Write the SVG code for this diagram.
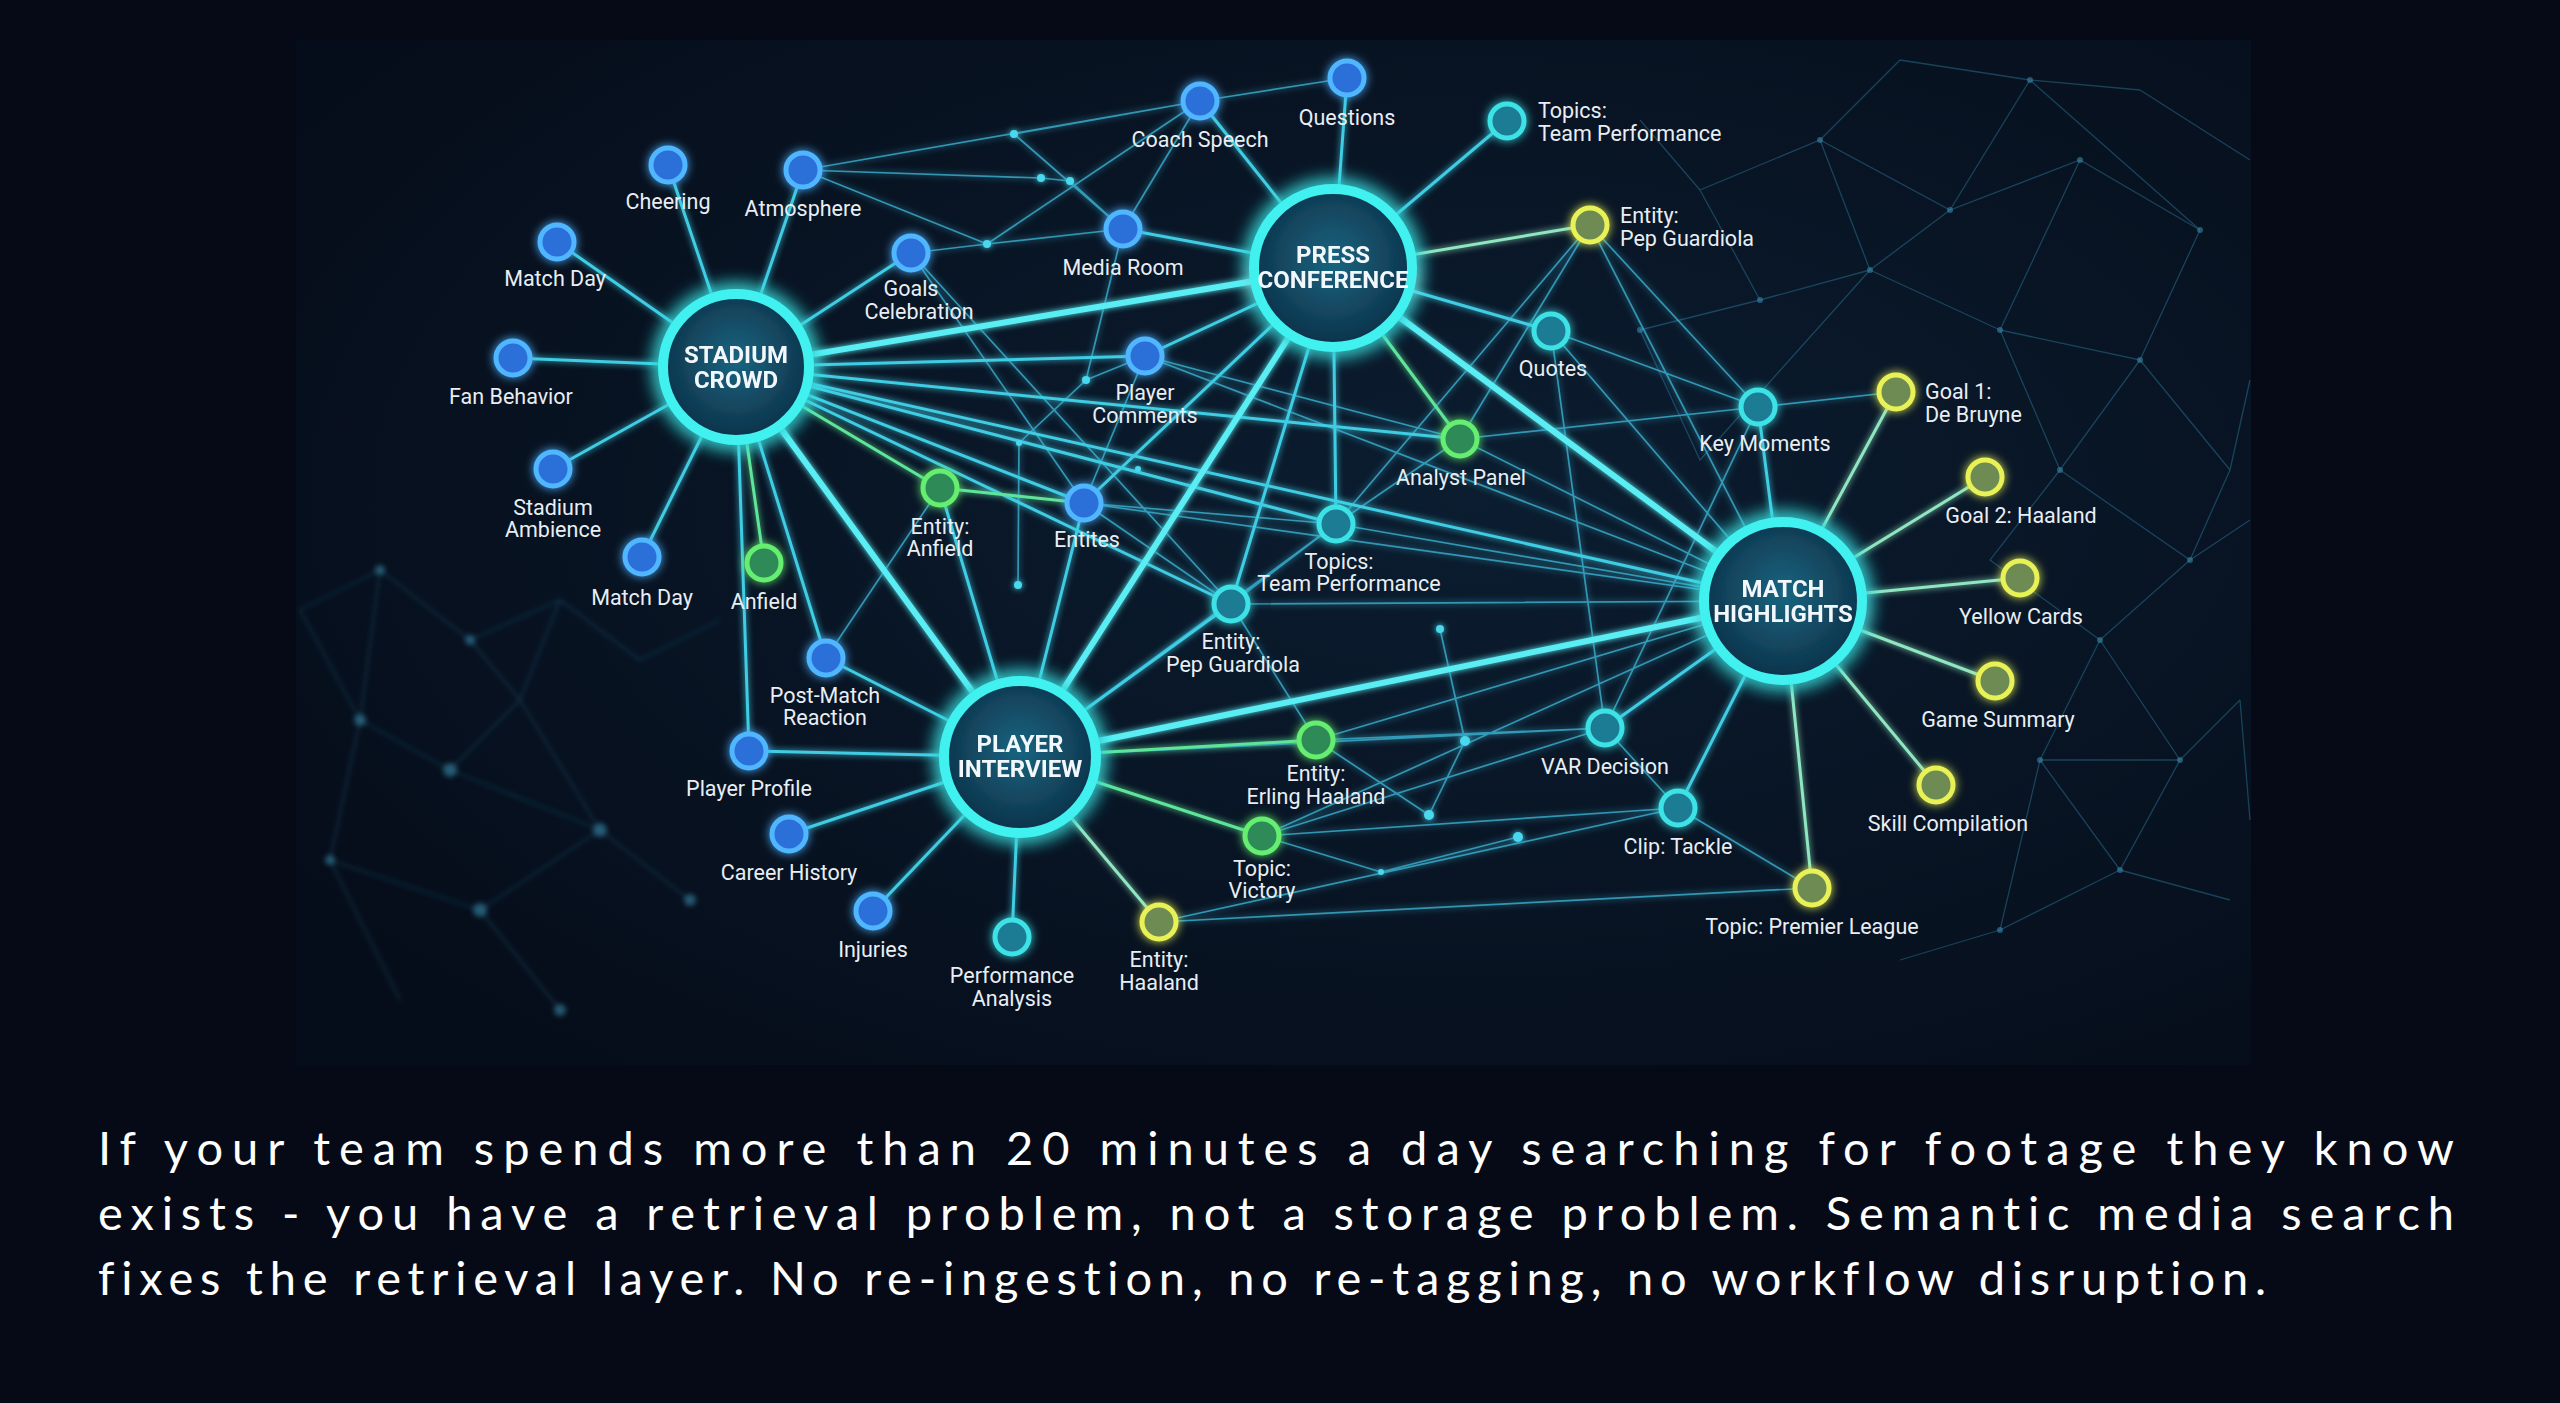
<svg xmlns="http://www.w3.org/2000/svg" width="2560" height="1403" viewBox="0 0 2560 1403">
<defs>
<style>
.lb{font-family:Roboto,"Liberation Sans",sans-serif;font-size:21.5px;fill:#e8eef4;text-anchor:middle}
.ls{font-family:Roboto,"Liberation Sans",sans-serif;font-size:21.5px;fill:#e8eef4;text-anchor:start}
.ht{font-family:Roboto,"Liberation Sans",sans-serif;font-size:24px;font-weight:700;fill:#f2f7fb;text-anchor:middle}
.para{font-family:Lato,"Liberation Sans",sans-serif;font-size:47px;fill:#ffffff;font-variant-ligatures:none;font-feature-settings:"liga" 0}
.thick{stroke:#5aeef4;stroke-width:6;fill:none}
.sp{stroke:#3fcde4;stroke-width:3;fill:none}
.spg{stroke:#5fe59a;stroke-width:3;fill:none}
.spy{stroke:#8fe6c0;stroke-width:3;fill:none}
.th{stroke:#3ab0cf;stroke-width:1.7;fill:none;opacity:.8}
.bg{stroke:#2a7396;stroke-width:1.3;fill:none;opacity:.5}
.dot{fill:#48d8ee}
.bdot{fill:#3a8fb0;opacity:.55}
.hub{fill:url(#hubfill);stroke:#3ff1f0;stroke-width:10}
.nb{fill:#2a6fd8;stroke:#4fb6ff;stroke-width:5}
.nt{fill:#1d7c94;stroke:#3de2e6;stroke-width:5}
.ng{fill:#2e8a57;stroke:#66ee70;stroke-width:5}
.ny{fill:#6e8b52;stroke:#e8f155;stroke-width:5}
</style>
<radialGradient id="hubfill" cx="50%" cy="45%" r="60%">
<stop offset="0" stop-color="#1a6580"/>
<stop offset="1" stop-color="#0c2d44"/>
</radialGradient>
<radialGradient id="panelfill" cx="60%" cy="45%" r="70%">
<stop offset="0" stop-color="#0b1d30"/>
<stop offset="1" stop-color="#060d1a"/>
</radialGradient>
<filter id="glow" x="-20%" y="-20%" width="140%" height="140%">
<feGaussianBlur stdDeviation="3" result="b"/>
<feMerge><feMergeNode in="b"/><feMergeNode in="SourceGraphic"/></feMerge>
</filter>
<filter id="nglow" x="-60%" y="-60%" width="220%" height="220%">
<feGaussianBlur stdDeviation="5" result="b"/>
<feMerge><feMergeNode in="b"/><feMergeNode in="SourceGraphic"/></feMerge>
</filter>
<filter id="hglow" x="-40%" y="-40%" width="180%" height="180%">
<feGaussianBlur stdDeviation="10" result="b"/>
<feMerge><feMergeNode in="b"/><feMergeNode in="b"/><feMergeNode in="SourceGraphic"/></feMerge>
</filter>
<filter id="blur2" x="-10%" y="-10%" width="120%" height="120%">
<feGaussianBlur stdDeviation="2.5"/>
</filter>
</defs>

<rect width="2560" height="1403" fill="#050a16"/>
<rect x="296" y="40" width="1955" height="1025" fill="url(#panelfill)"/>

<g id="background-net">
<g filter="url(#blur2)">
<path class="bg" d="M300 610 L380 570 L470 640 L560 600 L640 660 L720 620 M380 570 L360 720 L450 770 L520 700 L470 640 M450 770 L600 830 L690 900 M520 700 L600 830 M360 720 L330 860 L480 910 L600 830 M480 910 L560 1010 M330 860 L400 1000 M560 600 L520 700 M300 610 L360 720"/>
<circle class="bdot" cx="380" cy="570" r="5"/><circle class="bdot" cx="470" cy="640" r="5"/><circle class="bdot" cx="360" cy="720" r="6"/><circle class="bdot" cx="450" cy="770" r="7"/><circle class="bdot" cx="600" cy="830" r="7"/><circle class="bdot" cx="480" cy="910" r="7"/><circle class="bdot" cx="690" cy="900" r="6"/><circle class="bdot" cx="330" cy="860" r="5"/><circle class="bdot" cx="560" cy="1010" r="6"/>
</g>
<path class="bg" d="M1700 190 L1820 140 L1950 210 L2080 160 L2200 230 M1820 140 L1870 270 L1950 210 M1870 270 L2000 330 L2080 160 M2000 330 L2140 360 L2200 230 M2140 360 L2230 470 M2000 330 L2060 470 L2140 360 M2060 470 L2190 560 L2230 470 M2060 470 L1990 560 L2100 640 L2190 560 M2100 640 L2180 760 L2240 700 M2100 640 L2040 760 L2180 760 M2040 760 L2120 870 L2180 760 M2120 870 L2000 930 L2040 760 M2000 930 L1900 960 M2120 870 L2230 900 M1870 270 L1760 300 M1950 210 L2030 80 L2140 90 M1700 190 L1640 120 M2190 560 L2250 520 M1640 330 L1760 300 L1700 190 M1640 330 L1700 460 L1870 270 M2030 80 L2200 230 M2140 90 L2250 160 M1900 60 L2030 80 M1900 60 L1820 140 M2230 470 L2250 380 M2240 700 L2250 820"/>
<circle class="bdot" cx="1820" cy="140" r="3"/><circle class="bdot" cx="1950" cy="210" r="3"/><circle class="bdot" cx="2080" cy="160" r="3"/><circle class="bdot" cx="2200" cy="230" r="3"/><circle class="bdot" cx="1870" cy="270" r="3"/><circle class="bdot" cx="2000" cy="330" r="3"/><circle class="bdot" cx="2140" cy="360" r="3"/><circle class="bdot" cx="2060" cy="470" r="3"/><circle class="bdot" cx="2190" cy="560" r="3"/><circle class="bdot" cx="2100" cy="640" r="3"/><circle class="bdot" cx="2180" cy="760" r="3"/><circle class="bdot" cx="2040" cy="760" r="3"/><circle class="bdot" cx="2120" cy="870" r="3"/><circle class="bdot" cx="2000" cy="930" r="3"/><circle class="bdot" cx="2030" cy="80" r="3"/><circle class="bdot" cx="1760" cy="300" r="3"/><circle class="bdot" cx="1640" cy="330" r="3"/>
</g>

<g id="connectors" filter="url(#glow)">
<path class="th" d="M1200 101 L1347 78 M1200 101 L1123 229 M803 170 L1200 101 M803 170 L1041 178 L1070 181 L1123 229 M803 170 L987 244 M911 253 L987 244 L1123 229 M911 253 L1084 503 M911 253 L1231 604 M987 244 L1200 101 M1014 134 L1200 101 M1014 134 L1123 229 M1084 503 L1145 356 M1084 503 L1336 524 M1084 503 L1231 604 M1084 503 L1783 601 M1231 604 L1336 524 M1231 604 L1316 740 M1231 604 L1783 601 M1316 740 L1605 728 M1316 740 L1783 601 M1262 836 L1605 728 M1262 836 L1678 808 M1262 836 L1783 601 M1159 922 L1812 888 M1159 922 L1678 808 M1605 728 L1678 808 M1678 808 L1812 888 M1551 331 L1758 407 M1551 331 L1783 601 M1590 225 L1758 407 M1590 225 L1460 439 M1590 225 L1336 524 M1590 225 L1783 601 M1460 439 L1336 524 M1460 439 L1758 407 M1460 439 L1783 601 M1336 524 L1783 601 M1758 407 L1896 392 M1145 356 L1783 601 M1145 356 L1460 439 M826 658 L940 488 M1020 757 L1605 728 M1020 757 L1336 524 M1123 229 L1086 380 L1019 443 L1018 585 M1440 629 L1465 741 L1429 815 M1381 872 L1518 837 M1316 740 L1429 815 M1262 836 L1381 872 M1551 331 L1605 728 M1758 407 L1605 728 M1086 380 L1145 356"/>
<path class="sp" d="M736 367 L668 165 M736 367 L803 170 M736 367 L557 242 M736 367 L513 358 M736 367 L553 469 M736 367 L642 557 M736 367 L911 253 M736 367 L826 658 M736 367 L749 751 M736 367 L1145 356 M736 367 L1084 503 M736 367 L1336 524 M736 367 L1460 439 M736 367 L1783 601 M736 367 L1231 604"/>
<path class="spg" d="M736 367 L764 563 M736 367 L940 488 M940 488 L1084 503"/>
<path class="sp" d="M1333 268 L1200 101 M1333 268 L1347 78 M1333 268 L1507 121 M1333 268 L1123 229 M1333 268 L1145 356 M1333 268 L1551 331 M1333 268 L1336 524 M1333 268 L1231 604 M1333 268 L1084 503"/>
<path class="spg" d="M1333 268 L1460 439"/>
<path class="spy" d="M1333 268 L1590 225"/>
<path class="sp" d="M1020 757 L826 658 M1020 757 L749 751 M1020 757 L789 834 M1020 757 L873 911 M1020 757 L1012 937 M1020 757 L1231 604 M1020 757 L1084 503 M1020 757 L940 488"/>
<path class="spg" d="M1020 757 L1262 836 M1020 757 L1316 740"/>
<path class="spy" d="M1020 757 L1159 922"/>
<path class="sp" d="M1783 601 L1758 407 M1783 601 L1678 808 M1783 601 L1605 728"/>
<path class="spy" d="M1783 601 L1896 392 M1783 601 L1985 477 M1783 601 L2020 578 M1783 601 L1995 681 M1783 601 L1936 785 M1783 601 L1812 888"/>
<path class="thick" d="M736 367 L1333 268 M736 367 L1020 757 M1333 268 L1020 757 M1333 268 L1783 601 M1020 757 L1783 601"/>
<circle class="dot" cx="1014" cy="134" r="4"/><circle class="dot" cx="1041" cy="178" r="4"/><circle class="dot" cx="1070" cy="181" r="4"/><circle class="dot" cx="987" cy="244" r="4"/><circle class="dot" cx="1086" cy="380" r="4"/><circle class="dot" cx="1019" cy="443" r="3"/><circle class="dot" cx="1018" cy="585" r="4"/><circle class="dot" cx="1138" cy="469" r="3"/><circle class="dot" cx="1440" cy="629" r="4"/><circle class="dot" cx="1465" cy="741" r="5"/><circle class="dot" cx="1429" cy="815" r="5"/><circle class="dot" cx="1518" cy="837" r="5"/><circle class="dot" cx="1381" cy="872" r="3"/>
</g>

<g id="hub-stadium-crowd" filter="url(#hglow)">
<circle class="hub" cx="736" cy="367" r="73"/>
<text class="ht" x="736" y="363">STADIUM</text>
<text class="ht" x="736" y="388">CROWD</text>
</g>
<g id="hub-press-conference" filter="url(#hglow)">
<circle class="hub" cx="1333" cy="268" r="79"/>
<text class="ht" x="1333" y="263">PRESS</text>
<text class="ht" x="1333" y="288">CONFERENCE</text>
</g>
<g id="hub-player-interview" filter="url(#hglow)">
<circle class="hub" cx="1020" cy="757" r="76"/>
<text class="ht" x="1020" y="752">PLAYER</text>
<text class="ht" x="1020" y="777">INTERVIEW</text>
</g>
<g id="hub-match-highlights" filter="url(#hglow)">
<circle class="hub" cx="1783" cy="601" r="79"/>
<text class="ht" x="1783" y="597">MATCH</text>
<text class="ht" x="1783" y="622">HIGHLIGHTS</text>
</g>

<g id="node-cheering"><circle class="nb" cx="668" cy="165" r="17" filter="url(#nglow)"/><text class="lb" x="668" y="209">Cheering</text></g>
<g id="node-atmosphere"><circle class="nb" cx="803" cy="170" r="17" filter="url(#nglow)"/><text class="lb" x="803" y="216">Atmosphere</text></g>
<g id="node-match-day-1"><circle class="nb" cx="557" cy="242" r="17" filter="url(#nglow)"/><text class="lb" x="555" y="286">Match Day</text></g>
<g id="node-fan-behavior"><circle class="nb" cx="513" cy="358" r="17" filter="url(#nglow)"/><text class="lb" x="511" y="404">Fan Behavior</text></g>
<g id="node-stadium-ambience"><circle class="nb" cx="553" cy="469" r="17" filter="url(#nglow)"/><text class="lb" x="553" y="515">Stadium</text><text class="lb" x="553" y="537">Ambience</text></g>
<g id="node-match-day-2"><circle class="nb" cx="642" cy="557" r="17" filter="url(#nglow)"/><text class="lb" x="642" y="605">Match Day</text></g>
<g id="node-anfield"><circle class="ng" cx="764" cy="563" r="17" filter="url(#nglow)"/><text class="lb" x="764" y="609">Anfield</text></g>
<g id="node-goals-celebration"><circle class="nb" cx="911" cy="253" r="17" filter="url(#nglow)"/><text class="lb" x="911" y="296">Goals</text><text class="lb" x="919" y="319">Celebration</text></g>
<g id="node-entity-anfield"><circle class="ng" cx="940" cy="488" r="17" filter="url(#nglow)"/><text class="lb" x="940" y="534">Entity:</text><text class="lb" x="940" y="556">Anfield</text></g>
<g id="node-post-match-reaction"><circle class="nb" cx="826" cy="658" r="17" filter="url(#nglow)"/><text class="lb" x="825" y="703">Post-Match</text><text class="lb" x="825" y="725">Reaction</text></g>
<g id="node-player-profile"><circle class="nb" cx="749" cy="751" r="17" filter="url(#nglow)"/><text class="lb" x="749" y="796">Player Profile</text></g>
<g id="node-career-history"><circle class="nb" cx="789" cy="834" r="17" filter="url(#nglow)"/><text class="lb" x="789" y="880">Career History</text></g>
<g id="node-injuries"><circle class="nb" cx="873" cy="911" r="17" filter="url(#nglow)"/><text class="lb" x="873" y="957">Injuries</text></g>
<g id="node-performance-analysis"><circle class="nt" cx="1012" cy="937" r="17" filter="url(#nglow)"/><text class="lb" x="1012" y="983">Performance</text><text class="lb" x="1012" y="1006">Analysis</text></g>
<g id="node-entity-haaland"><circle class="ny" cx="1159" cy="922" r="17" filter="url(#nglow)"/><text class="lb" x="1159" y="967">Entity:</text><text class="lb" x="1159" y="990">Haaland</text></g>
<g id="node-topic-victory"><circle class="ng" cx="1262" cy="836" r="17" filter="url(#nglow)"/><text class="lb" x="1262" y="876">Topic:</text><text class="lb" x="1262" y="898">Victory</text></g>
<g id="node-entity-erling-haaland"><circle class="ng" cx="1316" cy="740" r="17" filter="url(#nglow)"/><text class="lb" x="1316" y="781">Entity:</text><text class="lb" x="1316" y="804">Erling Haaland</text></g>
<g id="node-entity-pep-guardiola-2"><circle class="nt" cx="1231" cy="604" r="17" filter="url(#nglow)"/><text class="lb" x="1231" y="649">Entity:</text><text class="lb" x="1233" y="672">Pep Guardiola</text></g>
<g id="node-entites"><circle class="nb" cx="1084" cy="503" r="17" filter="url(#nglow)"/><text class="lb" x="1087" y="547">Entites</text></g>
<g id="node-player-comments"><circle class="nb" cx="1145" cy="356" r="17" filter="url(#nglow)"/><text class="lb" x="1145" y="400">Player</text><text class="lb" x="1145" y="423">Comments</text></g>
<g id="node-media-room"><circle class="nb" cx="1123" cy="229" r="17" filter="url(#nglow)"/><text class="lb" x="1123" y="275">Media Room</text></g>
<g id="node-coach-speech"><circle class="nb" cx="1200" cy="101" r="17" filter="url(#nglow)"/><text class="lb" x="1200" y="147">Coach Speech</text></g>
<g id="node-questions"><circle class="nb" cx="1347" cy="78" r="17" filter="url(#nglow)"/><text class="lb" x="1347" y="125">Questions</text></g>
<g id="node-topics-team-performance-1"><circle class="nt" cx="1507" cy="121" r="17" filter="url(#nglow)"/><text class="ls" x="1538" y="118">Topics:</text><text class="ls" x="1538" y="141">Team Performance</text></g>
<g id="node-entity-pep-guardiola-1"><circle class="ny" cx="1590" cy="225" r="17" filter="url(#nglow)"/><text class="ls" x="1620" y="223">Entity:</text><text class="ls" x="1620" y="246">Pep Guardiola</text></g>
<g id="node-quotes"><circle class="nt" cx="1551" cy="331" r="17" filter="url(#nglow)"/><text class="lb" x="1553" y="376">Quotes</text></g>
<g id="node-analyst-panel"><circle class="ng" cx="1460" cy="439" r="17" filter="url(#nglow)"/><text class="lb" x="1461" y="485">Analyst Panel</text></g>
<g id="node-topics-team-performance-2"><circle class="nt" cx="1336" cy="524" r="17" filter="url(#nglow)"/><text class="lb" x="1339" y="569">Topics:</text><text class="lb" x="1349" y="591">Team Performance</text></g>
<g id="node-key-moments"><circle class="nt" cx="1758" cy="407" r="17" filter="url(#nglow)"/><text class="lb" x="1765" y="451">Key Moments</text></g>
<g id="node-goal-1"><circle class="ny" cx="1896" cy="392" r="17" filter="url(#nglow)"/><text class="ls" x="1925" y="399">Goal 1:</text><text class="ls" x="1925" y="422">De Bruyne</text></g>
<g id="node-goal-2"><circle class="ny" cx="1985" cy="477" r="17" filter="url(#nglow)"/><text class="lb" x="2021" y="523">Goal 2: Haaland</text></g>
<g id="node-yellow-cards"><circle class="ny" cx="2020" cy="578" r="17" filter="url(#nglow)"/><text class="lb" x="2021" y="624">Yellow Cards</text></g>
<g id="node-game-summary"><circle class="ny" cx="1995" cy="681" r="17" filter="url(#nglow)"/><text class="lb" x="1998" y="727">Game Summary</text></g>
<g id="node-skill-compilation"><circle class="ny" cx="1936" cy="785" r="17" filter="url(#nglow)"/><text class="lb" x="1948" y="831">Skill Compilation</text></g>
<g id="node-topic-premier-league"><circle class="ny" cx="1812" cy="888" r="17" filter="url(#nglow)"/><text class="lb" x="1812" y="934">Topic: Premier League</text></g>
<g id="node-clip-tackle"><circle class="nt" cx="1678" cy="808" r="17" filter="url(#nglow)"/><text class="lb" x="1678" y="854">Clip: Tackle</text></g>
<g id="node-var-decision"><circle class="nt" cx="1605" cy="728" r="17" filter="url(#nglow)"/><text class="lb" x="1605" y="774">VAR Decision</text></g>

<g id="caption">
<text class="para" x="98" y="1165" textLength="2356" lengthAdjust="spacing">If your team spends more than 20 minutes a day searching for footage they know</text>
<text class="para" x="98" y="1230" textLength="2356" lengthAdjust="spacing">exists - you have a retrieval problem, not a storage problem. Semantic media search</text>
<text class="para" x="98" y="1295" textLength="2168" lengthAdjust="spacing">fixes the retrieval layer. No re-ingestion, no re-tagging, no workflow disruption.</text>
</g>
</svg>
